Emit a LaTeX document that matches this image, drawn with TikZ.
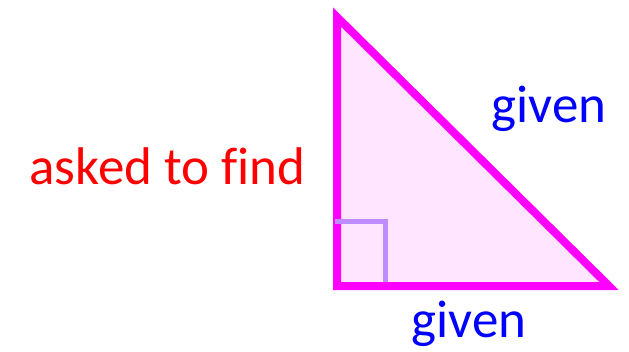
\documentclass[tikz,border=0pt]{standalone}
\usepackage{fontspec}
\setmainfont[Ligatures=CommonOff]{Carlito}
\definecolor{tri}{HTML}{FF00FF}
\definecolor{trifill}{HTML}{FFE5FF}
\definecolor{rmark}{HTML}{BF8CFF}
\definecolor{askred}{HTML}{FF0000}
\definecolor{givblue}{HTML}{0000FF}
\begin{document}
\begin{tikzpicture}[x=1pt,y=1pt,
  lbl/.style={anchor=base,inner sep=0pt,font=\fontsize{53}{60}\selectfont}]
\useasboundingbox (0,0) rectangle (629,351);
\coordinate (A) at (337,334);
\coordinate (B) at (337,65);
\coordinate (C) at (609,65);
\draw[tri,fill=trifill,line width=8pt,line join=miter] (A) -- (B) -- (C) -- cycle;
\coordinate (m1) at (335,129);
\coordinate (m2) at (385,129);
\coordinate (m3) at (385,69);
\draw[rmark,line width=5pt] (m1) -- (m2) -- (m3);
\node[lbl,text=askred] (ask) at (167.5,166) {asked to find};
\node[lbl,text=givblue] (g1) at (549,228) {given};
\node[lbl,text=givblue] (g2) at (469,14) {given};
\end{tikzpicture}
\end{document}
